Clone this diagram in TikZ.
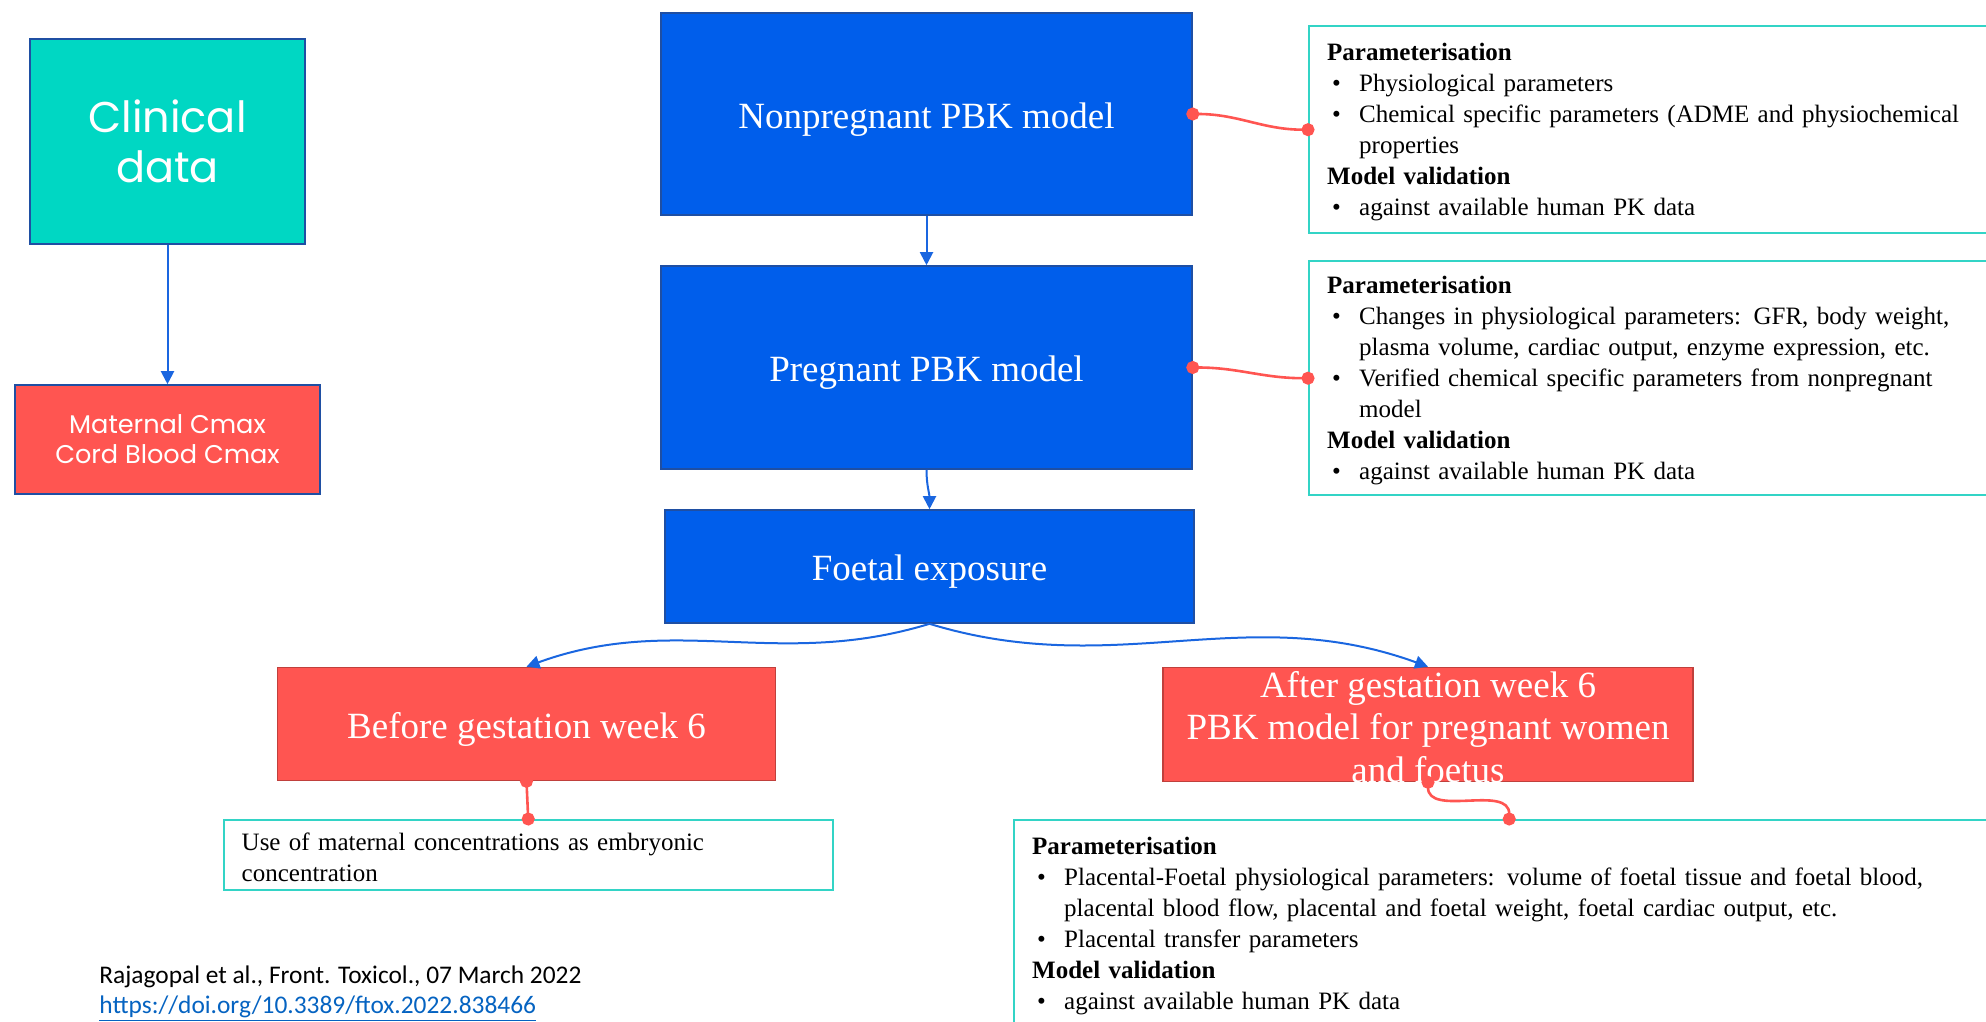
\documentclass[tikz,border=0pt]{standalone}
\usepackage{fontspec}
\setmainfont{Liberation Serif}
\newfontfamily\popfont{Poppins}
\newfontfamily\calfont{Carlito}
\usepackage{tikz}
\usetikzlibrary{arrows.meta}
\definecolor{fxblue}{HTML}{005EEB}
\definecolor{fxblueline}{HTML}{1F4FA3}
\definecolor{fxteal}{HTML}{00D7C3}
\definecolor{fxtealline}{HTML}{33D4C6}
\definecolor{fxred}{HTML}{FF5551}
\definecolor{fxredline}{HTML}{C0403C}
\definecolor{fxarrow}{HTML}{1A66E0}
\definecolor{fxlink}{HTML}{0563C1}
\newcommand{\bul}{\hspace*{2.5pt}\makebox[13.5pt][l]{\textbullet}}
\newcommand{\cont}{\hspace*{16pt}}

\begin{document}
\begin{tikzpicture}[x=0.5pt, y=0.5pt]
\tikzstyle{model}=[draw=fxblueline, fill=fxblue, text=white, line width=0.8pt, font=\fontsize{18.5}{21.25}\selectfont, text height=14.2pt, text depth=0pt]
\tikzstyle{week}=[draw=fxredline, fill=fxred, text=white, line width=0.8pt, font=\fontsize{18.5}{21.25}\selectfont]
\tikzstyle{info}=[draw=fxtealline, fill=white, line width=1.2pt, align=left, inner xsep=9pt, inner ysep=4pt, font=\fontsize{12.5}{15.5}\selectfont]
\tikzstyle{flow}=[color=fxarrow, line width=1pt, -{Triangle[length=6.5pt, width=6.5pt]}]
\tikzstyle{dotlink}=[color=fxred, line width=1.3pt, {Circle[length=6.5pt]}-{Circle[length=6.5pt]}, shorten <=-3.25pt, shorten >=-3.25pt]
\useasboundingbox (0,0) rectangle (1986,-1022);
\clip (0,0) rectangle (1986,-1022);

% left column
\node[draw=fxblueline, fill=fxteal, text=white, line width=0.8pt, align=center, minimum width=137.5pt, minimum height=102.5pt, font=\popfont\fontsize{21.5}{25}\selectfont] (clin) at (167.5,-141.5) {Clinical\\data};
\node[draw=fxblueline, fill=fxred, text=white, line width=0.8pt, align=center, minimum width=152.5pt, minimum height=54.5pt, font=\popfont\fontsize{12.8}{15}\selectfont] (cmax) at (167.5,-439.5) {Maternal Cmax\\Cord Blood Cmax};

% model chain
\node[model, minimum width=265.5pt, minimum height=101pt] (np) at (926.5,-114) {Nonpregnant PBK model};
\node[model, minimum width=265.5pt, minimum height=101.5pt] (pr) at (926.5,-367.5) {Pregnant PBK model};
\node[model, minimum width=264.5pt, minimum height=56.5pt] (fe) at (929.5,-566.5) {Foetal exposure};
\node[week, minimum width=249pt, minimum height=56.5pt, text height=14.2pt, text depth=0pt] (bef) at (526.5,-724) {Before gestation week 6};
\node[week, minimum width=265pt, minimum height=57pt] (aft) at (1428,-724.5) {\smash{\raisebox{-7.7pt}{\begin{tabular}{@{}c@{}}After gestation week 6\\PBK model for pregnant women\\and foetus\end{tabular}}}};

% notes
\node[info, anchor=north west, text width=340pt, minimum height=103.5pt] (par1) at (1308,-25) {\strut\textbf{Parameterisation}\\
\bul Physiological parameters\\
\bul Chemical specific parameters (ADME and physiochemical\\
\cont properties\\
\textbf{Model validation}\\
\bul against available human PK data};
\node[info, anchor=north west, text width=340pt, minimum height=117pt] (par2) at (1308,-260) {\strut\textbf{Parameterisation}\\
\bul Changes in physiological parameters: GFR, body weight,\\
\cont plasma volume, cardiac output, enzyme expression, etc.\\
\bul Verified chemical specific parameters from nonpregnant\\
\cont model\\
\textbf{Model validation}\\
\bul against available human PK data};
\node[info, anchor=north west, text width=286.5pt, minimum height=35pt] (use) at (222.5,-819) {\strut Use of maternal concentrations as embryonic\\concentration};
\node[info, anchor=north west, text width=477pt, inner ysep=6.5pt] (par3) at (1013,-819) {\strut\textbf{Parameterisation}\\
\bul Placental-Foetal physiological parameters: volume of foetal tissue and foetal blood,\\
\cont placental blood flow, placental and foetal weight, foetal cardiac output, etc.\\
\bul Placental transfer parameters\\
\textbf{Model validation}\\
\bul against available human PK data\rule[-20pt]{0pt}{20pt}};

% reference
\node[anchor=base west, inner sep=0pt, font=\calfont\fontsize{12.7}{15}\selectfont] (cite) at (99,-983) {Rajagopal et al., Front. Toxicol., 07 March 2022};
\node[anchor=base west, inner sep=0pt, text=fxlink, font=\calfont\fontsize{12.7}{15}\selectfont] (doi) at (99,-1013) {\underline{https://doi.org/10.3389/ftox.2022.838466}};

\path
(clin) edge[flow] (cmax)
(np) edge[flow] (pr)
(pr) edge[flow, out=-90, in=90] (fe)
(fe.south) edge[flow, out=197, in=20] (bef.north)
           edge[flow, out=-17, in=160] (aft.north);

\path
(np.east) edge[dotlink, out=0, in=180] (par1.west)
(pr.east) edge[dotlink, out=0, in=180] (par2.west)
(bef.south) edge[dotlink] (use.north)
(aft.south) edge[dotlink, out=-90, in=90] (par3.north);

\end{tikzpicture}
\end{document}
